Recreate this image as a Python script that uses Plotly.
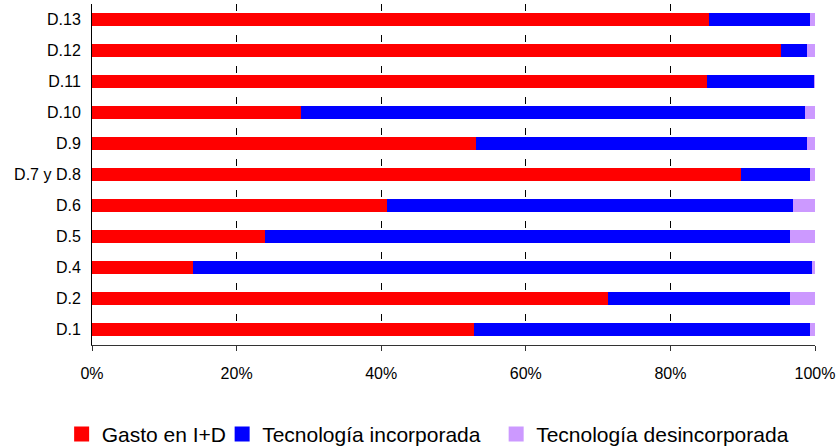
import plotly.graph_objects as go

categories = ["D.1", "D.2", "D.4", "D.5", "D.6", "D.7 y D.8", "D.9", "D.10", "D.11", "D.12", "D.13"]
gasto_id = [52.8, 71.4, 13.9, 23.9, 40.8, 89.7, 53.1, 28.9, 85.1, 95.3, 85.4]
tec_incorporada = [46.5, 25.2, 85.7, 72.7, 56.2, 9.6, 45.8, 69.7, 14.8, 3.6, 13.9]
tec_desincorporada = [0.7, 3.4, 0.4, 3.4, 3.0, 0.7, 1.1, 1.4, 0.1, 1.1, 0.7]
series_names = ["Gasto en I+D", "Tecnología incorporada", "Tecnología desincorporada"]
series_colors = ["#FF0000", "#0000FF", "#CC99FF"]
tick_values = [0, 20, 40, 60, 80, 100]
tick_labels = ["0%", "20%", "40%", "60%", "80%", "100%"]

FONT = "Liberation Sans, Arial, sans-serif"

fig = go.Figure()
for name, vals, col in zip(series_names, [gasto_id, tec_incorporada, tec_desincorporada], series_colors):
    fig.add_trace(go.Bar(y=categories, x=vals, orientation="h", name=name,
                         marker=dict(color=col, line=dict(width=0)), showlegend=False,
                         hoverinfo="skip"))

legend_ids = ["legend", "legend2", "legend3"]
legend_x = [-0.042, 0.18, 0.559]
for name, col, lid in zip(series_names, series_colors, legend_ids):
    fig.add_trace(go.Scatter(x=[None], y=[None], mode="markers", name=name, legend=lid,
                             marker=dict(symbol="square", size=15, color=col)))

legend_common = dict(orientation="h", xanchor="left", y=-0.262, yanchor="middle",
                     font=dict(size=21, family=FONT, color="black"), itemwidth=30,
                     bgcolor="rgba(0,0,0,0)", borderwidth=0)

fig.update_layout(
    barmode="stack",
    bargap=0.57,
    width=839, height=448,
    margin=dict(l=92, r=24, t=4, b=103, autoexpand=False),
    paper_bgcolor="white", plot_bgcolor="white",
    font=dict(family=FONT, color="black", size=16),
    legend=dict(x=legend_x[0], **legend_common),
    legend2=dict(x=legend_x[1], **legend_common),
    legend3=dict(x=legend_x[2], **legend_common),
    xaxis=dict(range=[0, 100], tickmode="array", tickvals=tick_values, ticktext=tick_labels,
               showgrid=True, gridcolor="#000000", gridwidth=1, griddash="7px,24px",
               showline=True, linecolor="#333333", linewidth=1,
               ticks="outside", ticklen=5, tickcolor="#333333", ticklabelstandoff=9,
               tickfont=dict(size=16, family=FONT, color="black"), zeroline=False),
    yaxis=dict(categoryorder="array", categoryarray=categories,
               showline=True, linecolor="#000000", linewidth=1,
               showgrid=False, ticks="", tickfont=dict(size=16, family=FONT, color="black"),
               ticklabelstandoff=7),
)

fig.write_html("out.html", config={"displayModeBar": False},
               post_script="document.body.style.margin='0';document.body.style.padding='0';")
